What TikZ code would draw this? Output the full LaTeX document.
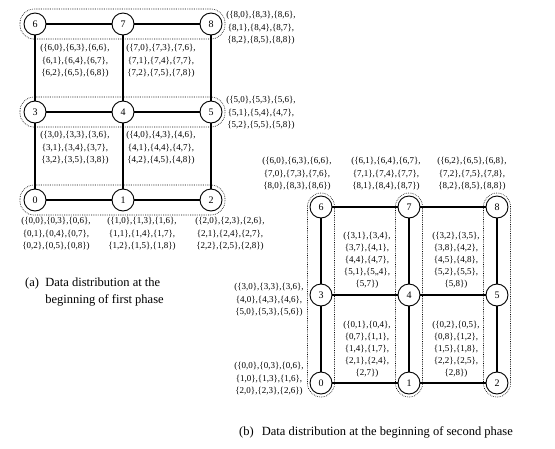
\documentclass[tikz,border=0pt]{standalone}
\usepackage{fontspec}
\setmainfont{Liberation Serif}
\newcommand\mypr[2]{\{#1,#2\}}
\newcommand\mytrip[1]{(\mypr{#1}{0},\mypr{#1}{3},\mypr{#1}{6},\\ \mypr{#1}{1},\mypr{#1}{4},\mypr{#1}{7},\\ \mypr{#1}{2},\mypr{#1}{5},\mypr{#1}{8})}
\begin{document}
\begin{tikzpicture}[x=1pt,y=-1pt,
  vert/.style={circle,draw,line width=0.9pt,minimum size=22pt,inner sep=0pt,font=\fontsize{10}{12}\selectfont,fill=white},
  edge/.style={line width=1.4pt},
  grp/.style={draw,line width=0.6pt,dash pattern=on 0.7pt off 1.1pt,rounded corners=14pt},
  lab/.style={align=center,font=\fontsize{9}{12.5}\selectfont,inner sep=0pt},
  cell/.style={align=center,font=\fontsize{9}{12}\selectfont,inner sep=0pt},
  captxt/.style={font=\fontsize{12.5}{17}\selectfont,inner sep=0pt}]
\useasboundingbox (0,0) rectangle (555,448);
% ---------- (a) ----------
\draw[grp] (20,9) rectangle (225,39);
\draw[grp] (20,97) rectangle (225,127);
\draw[grp] (20,185) rectangle (225,215);
\node[vert] (a0) at (35,200) {0};
\node[vert] (a1) at (123,200) {1};
\node[vert] (a2) at (211,200) {2};
\node[vert] (a3) at (35,112) {3};
\node[vert] (a4) at (123,112) {4};
\node[vert] (a5) at (211,112) {5};
\node[vert] (a6) at (35,24) {6};
\node[vert] (a7) at (123,24) {7};
\node[vert] (a8) at (211,24) {8};
\foreach \p/\q in {a6/a7,a7/a8,a3/a4,a4/a5,a0/a1,a1/a2,a6/a3,a3/a0,a7/a4,a4/a1,a8/a5,a5/a2}
  \draw[edge] (\p) -- (\q);
\node[lab] (la6) at (75,61) {\mytrip{6}};
\node[lab] (la7) at (161,61) {\mytrip{7}};
\node[lab] (la8) at (261,28) {\mytrip{8}};
\node[lab] (la3) at (75,148) {\mytrip{3}};
\node[lab] (la4) at (161,148) {\mytrip{4}};
\node[lab] (la5) at (261,113) {(\mypr50,\mypr53,\mypr56,\\ \mypr51,\mypr54,\mypr47,\\ \mypr52,\mypr55,\mypr58)};
\node[lab] (la0) at (56,234) {\mytrip{0}};
\node[lab] (la1) at (142,234) {\mytrip{1}};
\node[lab] (la2) at (230,234) {\mytrip{2}};
\node[captxt,anchor=west] (capa) at (25,291.5) {\begin{tabular}{@{}l@{\hspace{0.5em}}l@{}}(a) & Data distribution at the\\ & beginning of first phase\end{tabular}};
% ---------- (b) ----------
\begin{scope}[grp/.append style={rounded corners=13.5pt}]
\draw[grp] (307.5,193) rectangle (334.5,397);
\draw[grp] (395.5,193) rectangle (422.5,397);
\draw[grp] (483.5,193) rectangle (510.5,397);
\end{scope}
\node[vert] (b0) at (321,383) {0};
\node[vert] (b1) at (409,383) {1};
\node[vert] (b2) at (497,383) {2};
\node[vert] (b3) at (321,295) {3};
\node[vert] (b4) at (409,295) {4};
\node[vert] (b5) at (497,295) {5};
\node[vert] (b6) at (321,207) {6};
\node[vert] (b7) at (409,207) {7};
\node[vert] (b8) at (497,207) {8};
\foreach \p/\q in {b6/b7,b7/b8,b3/b4,b4/b5,b0/b1,b1/b2,b6/b3,b3/b0,b7/b4,b4/b1,b8/b5,b5/b2}
  \draw[edge] (\p) -- (\q);
\node[lab] (lb6) at (297,174) {(\mypr60,\mypr63,\mypr66,\\ \mypr70,\mypr73,\mypr76,\\ \mypr80,\mypr83,\mypr86)};
\node[lab] (lb7) at (386,174) {(\mypr61,\mypr64,\mypr67,\\ \mypr71,\mypr74,\mypr77,\\ \mypr81,\mypr84,\mypr87)};
\node[lab] (lb8) at (472,174) {(\mypr62,\mypr65,\mypr68,\\ \mypr72,\mypr75,\mypr78,\\ \mypr82,\mypr85,\mypr88)};
\node[lab] (lb3) at (269,300) {(\mypr30,\mypr33,\mypr36,\\ \mypr40,\mypr43,\mypr46,\\ \mypr50,\mypr53,\mypr56)};
\node[lab] (lb0) at (269,379) {(\mypr00,\mypr03,\mypr06,\\ \mypr10,\mypr13,\mypr16,\\ \mypr20,\mypr23,\mypr26)};
\node[cell] (c1) at (367,260) {(\mypr31,\mypr34,\\ \mypr37,\mypr41,\\ \mypr44,\mypr47,\\ \mypr51,\{5,,4\},\\ \mypr57)};
\node[cell] (c2) at (456,260) {(\mypr32,\mypr35,\\ \mypr38,\mypr42,\\ \mypr45,\mypr48,\\ \mypr52,\mypr55,\\ \mypr58)};
\node[cell] (c3) at (367,349) {(\mypr01,\mypr04,\\ \mypr07,\mypr11,\\ \mypr14,\mypr17,\\ \mypr21,\mypr24,\\ \mypr27)};
\node[cell] (c4) at (456,349) {(\mypr02,\mypr05,\\ \mypr08,\mypr12,\\ \mypr15,\mypr18,\\ \mypr22,\mypr25,\\ \mypr28)};
\node[captxt] (capb) at (376,432) {(b)\hspace{0.4em} Data distribution at the beginning of second phase};
\end{tikzpicture}
\end{document}
